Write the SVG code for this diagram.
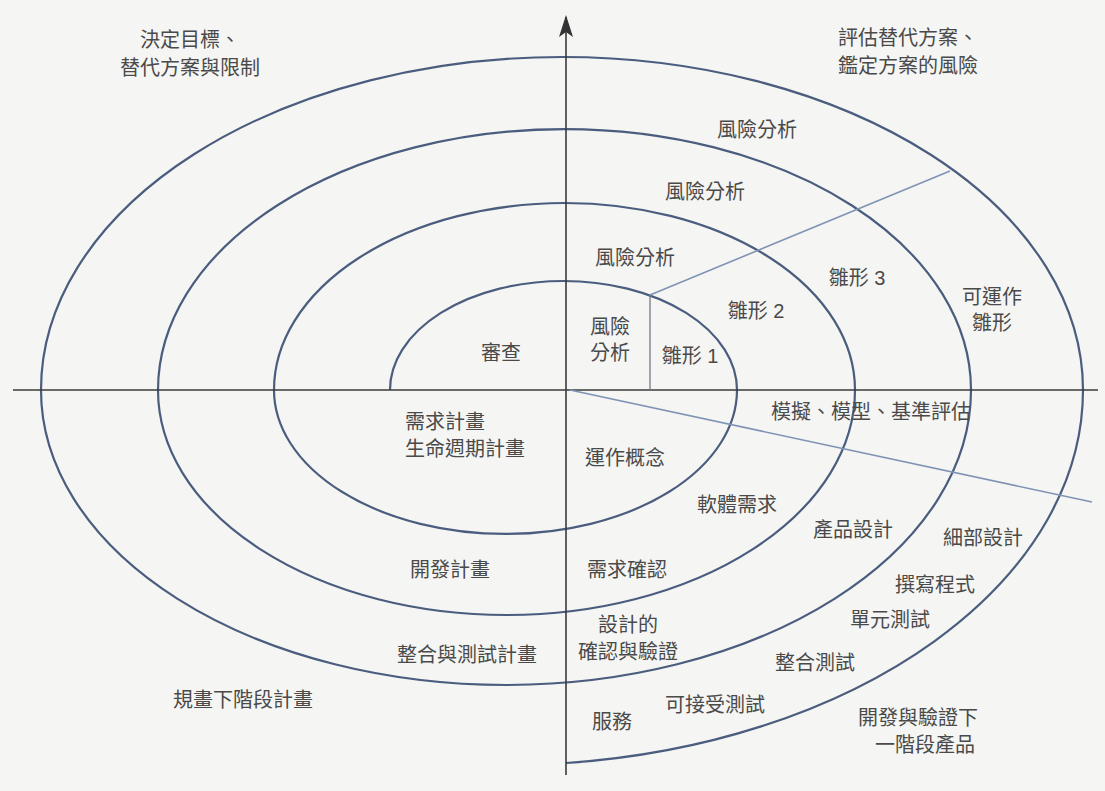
<svg xmlns="http://www.w3.org/2000/svg" width="1105" height="791" viewBox="0 0 1105 791">
<style>
.t{font-family:"Liberation Sans","Noto Sans CJK TC",sans-serif;font-size:20px;fill:#4a4a4a;text-anchor:middle;dominant-baseline:central}
.s{text-anchor:start}
.spiral{fill:none;stroke:#4b5d7e;stroke-width:2.2}
.axis{stroke:#3a3a3a;stroke-width:1.6;fill:none}
.thin{stroke:#707888;stroke-width:1.3;fill:none}
.diag{stroke:#7f94b4;stroke-width:1.6;fill:none}
</style>
<defs>
<marker id="arr" markerWidth="22" markerHeight="14" refX="20" refY="7" orient="auto" markerUnits="userSpaceOnUse" viewBox="0 0 22 14">
<path d="M0 0 L22 7 L0 14 L5 7 Z" fill="#333"/>
</marker>
</defs>
<rect width="1105" height="791" fill="#f5f5f3"/>
<g id="connectors">
<path class="spiral" d="M390 390 A173.5 109 0 0 1 737 390 A231.5 144 0 0 1 274 390 A290.5 187 0 0 1 855 390 A348.5 225 0 0 1 158 390 A406.5 261 0 0 1 971 390 A465 295 0 0 1 41 390 A521 333 0 0 1 1083 390 A577 375 0 0 1 566 763"/>
<line class="axis" x1="13" y1="390" x2="1098" y2="390"/>
<line class="axis" x1="566" y1="775" x2="566" y2="17" marker-end="url(#arr)"/>
<line class="thin" x1="650" y1="295" x2="650" y2="390"/>
<line class="diag" x1="650" y1="295" x2="950" y2="171"/>
<line class="diag" x1="570" y1="390" x2="1092" y2="502"/>
</g>
<g id="n-objectives"><text class="t" x="190" y="40">決定目標、</text><text class="t" x="190" y="68">替代方案與限制</text></g>
<g id="n-evaluate"><text class="t s" x="838" y="38">評估替代方案、</text><text class="t s" x="838" y="66">鑑定方案的風險</text></g>
<g id="n-risk4"><text class="t" x="757" y="130">風險分析</text></g>
<g id="n-risk3"><text class="t" x="705" y="192">風險分析</text></g>
<g id="n-risk2"><text class="t" x="635" y="258">風險分析</text></g>
<g id="n-risk1"><text class="t" x="610" y="327">風險</text><text class="t" x="610" y="353">分析</text></g>
<g id="n-proto1"><text class="t" x="690" y="356">雛形 1</text></g>
<g id="n-proto2"><text class="t" x="756" y="311">雛形 2</text></g>
<g id="n-proto3"><text class="t" x="857" y="278">雛形 3</text></g>
<g id="n-oper-proto"><text class="t" x="992" y="297">可運作</text><text class="t" x="992" y="323">雛形</text></g>
<g id="n-review"><text class="t" x="501" y="353">審查</text></g>
<g id="n-sim"><text class="t" x="871" y="412">模擬、模型、基準評估</text></g>
<g id="n-req-plan"><text class="t s" x="405" y="422">需求計畫</text><text class="t s" x="405" y="449">生命週期計畫</text></g>
<g id="n-concept"><text class="t" x="625" y="458">運作概念</text></g>
<g id="n-sw-req"><text class="t" x="737" y="505">軟體需求</text></g>
<g id="n-prod-design"><text class="t" x="853" y="530">產品設計</text></g>
<g id="n-detail-design"><text class="t" x="983" y="538">細部設計</text></g>
<g id="n-dev-plan"><text class="t" x="450" y="570">開發計畫</text></g>
<g id="n-req-valid"><text class="t" x="627" y="570">需求確認</text></g>
<g id="n-code"><text class="t" x="935" y="585">撰寫程式</text></g>
<g id="n-unit-test"><text class="t" x="890" y="620">單元測試</text></g>
<g id="n-design-vv"><text class="t" x="628" y="625">設計的</text><text class="t" x="628" y="652">確認與驗證</text></g>
<g id="n-int-test-plan"><text class="t" x="467" y="655">整合與測試計畫</text></g>
<g id="n-int-test"><text class="t" x="815" y="663">整合測試</text></g>
<g id="n-next-plan"><text class="t" x="243" y="700">規畫下階段計畫</text></g>
<g id="n-accept"><text class="t" x="715" y="705">可接受測試</text></g>
<g id="n-service"><text class="t" x="612" y="722">服務</text></g>
<g id="n-next-product"><text class="t" x="918" y="718">開發與驗證下</text><text class="t" x="925" y="745">一階段產品</text></g>
</svg>
